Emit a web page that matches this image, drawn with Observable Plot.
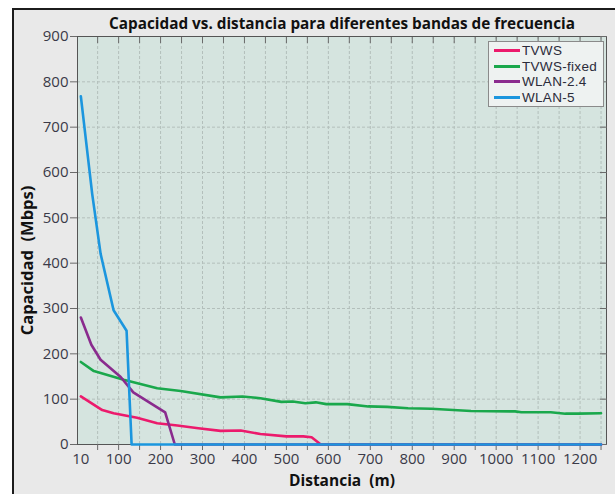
<!DOCTYPE html>
<html>
<head>
<meta charset="utf-8">
<script src="https://cdn.jsdelivr.net/npm/d3@7"></script>
<script src="https://cdn.jsdelivr.net/npm/@observablehq/plot@0.6"></script>
<style>
  html, body { margin: 0; padding: 0; background: #ffffff; }
  #wrap { position: relative; width: 615px; height: 494px; overflow: hidden; }
  #bg { position: absolute; left: 12px; top: 8px; width: 640px; height: 520px;
        background: #e9e9e9; border-left: 2px solid #1c1c1c; border-top: 2px solid #1c1c1c; }
  #chart { position: absolute; left: 0; top: 0; }
  #legend { position: absolute; left: 488px; top: 41px; width: 116px; height: 66px;
            background: #eef2f1; border: 1px solid #8a8a8a; box-sizing: border-box;
            font-family: "Liberation Sans", Arial, sans-serif; font-size: 13.5px; color: #2b2b3a;
            padding-top: 1px; }
  .row { display: flex; align-items: center; height: 15.5px; letter-spacing: 0.3px; }
  .row span { line-height: 15.5px; }
  .sw { width: 26px; height: 3px; margin-left: 5px; margin-right: 2px; }
</style>
</head>
<body>
<div id="wrap">
  <div id="bg"></div>
  <div id="chart"></div>
  <div id="legend"></div>
</div>
<script>
const titleText = "Capacidad vs. distancia para diferentes bandas de frecuencia";
const xLabelText = "Distancia\u00a0 (m)";
const yLabelText = "Capacidad\u00a0 (Mbps)";

const seriesNames = ["TVWS", "TVWS-fixed", "WLAN-2.4", "WLAN-5"];
const seriesColors = ["#ec1a6c", "#1aa84c", "#8a2b8e", "#1b96de"];

const tvwsX = [10, 61, 88, 144, 192, 240, 290, 343, 391, 438, 500, 540, 560, 582, 1250];
const tvwsY = [106, 76, 69, 59, 47, 42, 36, 30, 31, 23, 18, 18, 16, 0, 0];

const fixedX = [10, 41, 112, 192, 248, 343, 395, 438, 488, 515, 545, 570, 595, 645, 695, 740, 790, 845, 940, 1045, 1060, 1130, 1165, 1195, 1250];
const fixedY = [182, 162, 143, 124, 118, 104, 106, 102, 94, 95, 91, 93, 89, 89, 84, 83, 80, 79, 74, 73, 71, 71, 68, 68, 69];

const wlan24X = [10, 35, 57, 105, 135, 211, 234, 1250];
const wlan24Y = [280, 220, 187, 149, 115, 71, 0, 0];

const wlan5X = [10, 37, 57, 88, 119, 131, 1250];
const wlan5Y = [768, 553, 421, 296, 251, 0, 0];

const xTickLabels = [10, 100, 200, 300, 400, 500, 600, 700, 800, 900, 1000, 1100, 1200];
const xTickMarks = d3.range(50, 1251, 50);
const yTicks = [0, 100, 200, 300, 400, 500, 600, 700, 800, 900];

const allX = [tvwsX, fixedX, wlan24X, wlan5X];
const allY = [tvwsY, fixedY, wlan24Y, wlan5Y];
const rows = [];
allX.forEach((xs, s) => xs.forEach((x, i) => rows.push({series: seriesNames[s], x, y: allY[s][i]})));

const lineMarks = seriesNames.map((name, s) =>
  Plot.line(rows.filter(d => d.series === name), {x: "x", y: "y", stroke: seriesColors[s], strokeWidth: 2.6, strokeLinejoin: "round"})
);

const axisStroke = "#6a6a6a";
const chart = Plot.plot({
  width: 615,
  height: 494,
  marginLeft: 77,
  marginRight: 9,
  marginTop: 36,
  marginBottom: 50,
  x: {domain: [2, 1263]},
  y: {domain: [0, 900]},
  style: {background: "transparent", fontFamily: "Open Sans, sans-serif", fontSize: "15px", color: "#3a3a48", overflow: "visible"},
  marks: [
    Plot.frame({fill: "#d5e4df"}),
    Plot.gridX({ticks: xTickMarks, stroke: "#b3bfbb", strokeOpacity: 1, strokeDasharray: "3,2"}),
    Plot.gridY({ticks: yTicks.slice(1, -1), stroke: "#b3bfbb", strokeOpacity: 1, strokeDasharray: "3,2"}),
    Plot.frame({stroke: "#555", strokeWidth: 1}),
    Plot.axisX({ticks: xTickMarks, tickSize: 6, tickFormat: () => "", label: null, stroke: axisStroke}),
    Plot.axisX({ticks: xTickLabels, tickSize: 0, tickPadding: 9, label: null, fontSize: 15, tickFormat: d => String(d)}),
    Plot.axisX({anchor: "top", ticks: xTickMarks, tickSize: -6, tickFormat: () => "", label: null, stroke: axisStroke}),
    Plot.axisY({ticks: yTicks, tickSize: 7, tickPadding: 2, label: null, fontSize: 15, stroke: axisStroke, tickFormat: d => String(d)}),
    Plot.axisY({anchor: "right", ticks: yTicks, tickSize: -7, tickFormat: () => "", label: null, stroke: axisStroke}),
    ...lineMarks,
    Plot.text([titleText], {frameAnchor: "top", dy: -18, fontWeight: "bold", fontSize: 15.3, fill: "#111"}),
    Plot.text([xLabelText], {frameAnchor: "bottom", dy: 41, fontWeight: "bold", fontSize: 15.5, fill: "#111"}),
    Plot.text([yLabelText], {frameAnchor: "left", textAnchor: "middle", dx: -50, dy: 20, rotate: -90, fontWeight: "bold", fontSize: 16.5, fill: "#111"})
  ]
});
document.getElementById("chart").appendChild(chart);

const legend = document.getElementById("legend");
seriesNames.forEach((name, s) => {
  const row = document.createElement("div");
  row.className = "row";
  const sw = document.createElement("div");
  sw.className = "sw";
  sw.style.background = seriesColors[s];
  const label = document.createElement("span");
  label.textContent = name;
  row.appendChild(sw);
  row.appendChild(label);
  legend.appendChild(row);
});
</script>
</body>
</html>
